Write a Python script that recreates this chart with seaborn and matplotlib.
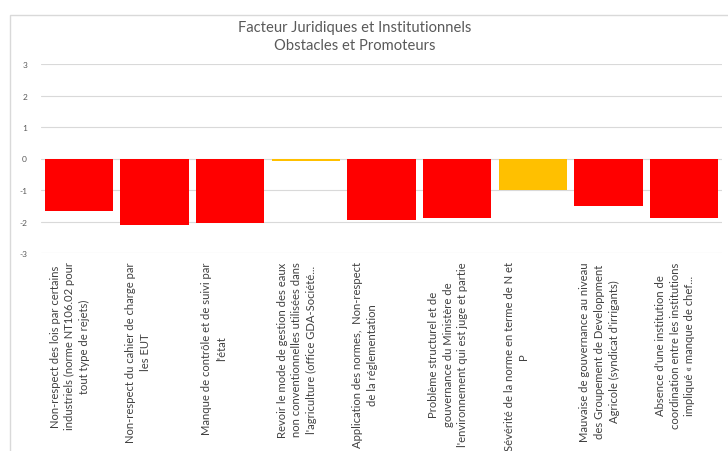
import matplotlib
matplotlib.use("Agg")
import matplotlib.pyplot as plt
import matplotlib.transforms as mtransforms
from matplotlib.patches import Rectangle
import seaborn as sns

# données
labels = [
    "Non-respect des lois par certains\nindustriels (norme NT106.02 pour\ntout type de rejets)",
    "Non-respect du cahier de charge par\nles EUT",
    "Manque de contrôle et de suivi par\nl'état",
    "Revoir le mode de gestion des eaux\nnon conventionnelles utilisées dans\nl'agriculture (office GDA-Société...",
    "Application des normes,  Non-respect\nde la réglementation",
    "Problème structurel et de\ngouvernance du Ministère de\nl'environnement qui est juge et partie",
    "Sévérité de la norme en terme de N et\nP",
    "Mauvaise de gouvernance au niveau\ndes Groupement de Developpment\nAgricole (syndicat d'irrigants)",
    "Absence d'une institution de\ncoordination entre les institutions\nimpliqué « manque de chef...",
]
values = [-1.66, -2.12, -2.05, -0.07, -1.94, -1.88, -1.0, -1.5, -1.88]
colors = ["#FF0000", "#FF0000", "#FF0000", "#FFC000", "#FF0000",
          "#FF0000", "#FFC000", "#FF0000", "#FF0000"]
yticks = [-3, -2, -1, 0, 1, 2, 3]

sns.set_style("white")
plt.rcParams["font.family"] = ["Lato", "DejaVu Sans"]

fig = plt.figure(figsize=(7.28, 4.52), dpi=100)
ax = fig.add_axes([41 / 728, 1 - 254 / 452, 681 / 728, 189 / 452])

for t in yticks:
    ax.axhline(t, color="#D9D9D9", linewidth=0.8, zorder=0)
sns.barplot(x=labels, y=values, hue=labels, palette=colors, legend=False,
            width=0.9, saturation=1, linewidth=0, ax=ax, zorder=3)

ax.set_ylim(-3, 3)
ax.set_xlim(-0.5, len(labels) - 0.5)
ax.set_yticks(yticks)
ax.set_yticklabels([str(t) for t in yticks], fontsize=6, color="#595959")
ax.tick_params(axis="y", length=0, pad=10)
ax.tick_params(axis="x", length=0, pad=6)
for s in ax.spines.values():
    s.set_visible(False)
ax.set_xlabel("")
ax.set_ylabel("")

ax.set_xticks(range(len(labels)))
ax.set_xticklabels(labels, rotation=90, fontsize=8.1, color="#404040",
                   ha="left", va="top", multialignment="center", linespacing=1.4)
offset = mtransforms.ScaledTranslation(-29 / 100, 0, fig.dpi_scale_trans)
for lab in ax.get_xticklabels():
    lab.set_transform(lab.get_transform() + offset)

fig.text(355 / 728, 1 - 37 / 452,
         "Facteur Juridiques et Institutionnels\nObstacles et Promoteurs",
         ha="center", va="center", fontsize=10.6, color="#595959", linespacing=1.3)

fig.patches.append(Rectangle((10 / 728, -0.1), 1.1, 1.1 - 16 / 452,
                             transform=fig.transFigure, fill=False,
                             edgecolor="#D9D9D9", linewidth=1))

fig.savefig("out.png", dpi=100)
